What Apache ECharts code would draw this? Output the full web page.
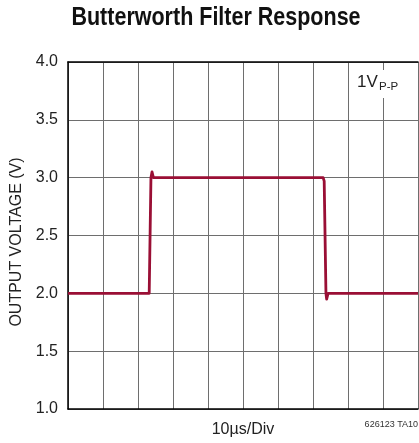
<!DOCTYPE html>
<html>
<head>
<meta charset="utf-8">
<title>Butterworth Filter Response</title>
<script src="https://cdn.jsdelivr.net/npm/echarts@6/dist/echarts.min.js"></script>
<style>
  html, body { margin: 0; padding: 0; background: #fff; }
  #chart { width: 419px; height: 443px; }
</style>
</head>
<body>
<div id="chart"></div>
<script>
// Scope trace: 1Vp-p step through the filter, 10 µs per division
const timeUs  = [0,   23.2, 23.7, 24.0, 24.4, 72.9, 73.2, 73.7, 73.9, 74.3, 100];
const voltage = [2.0, 2.0,  3.0,  3.05, 3.0,  3.0,  2.97, 2.0,  1.95, 2.0,  2.0];
const yTicks  = [1.0, 1.5, 2.0, 2.5, 3.0, 3.5, 4.0];
const xDivisions = 10;

const traceColor = '#9a0f35';
const gridColor = '#6e6e6e';
const sans = '"Liberation Sans", Arial, sans-serif';

const chart = echarts.init(document.getElementById('chart'), null, { renderer: 'canvas' });

chart.setOption({
  animation: false,
  backgroundColor: '#fff',
  grid: { left: 68, right: 1, top: 62, bottom: 31, containLabel: false },
  xAxis: [
    {
      type: 'value',
      min: 0,
      max: xDivisions * 10,
      interval: 10,
      name: '10µs/Div',
      nameLocation: 'middle',
      nameGap: 13,
      nameTextStyle: { fontFamily: sans, fontSize: 16, color: '#222' },
      axisLine: { show: true, onZero: false, lineStyle: { color: '#000', width: 1.5 } },
      axisTick: { show: false },
      axisLabel: { show: false },
      splitLine: { show: true, lineStyle: { color: gridColor, width: 1 } }
    },
    {
      type: 'value',
      position: 'top',
      min: 0,
      max: xDivisions * 10,
      interval: 10,
      axisLine: { show: true, onZero: false, lineStyle: { color: '#000', width: 1.5 } },
      axisTick: { show: false },
      axisLabel: { show: false },
      splitLine: { show: false }
    }
  ],
  yAxis: {
    type: 'value',
    min: yTicks[0],
    max: yTicks[yTicks.length - 1],
    interval: 0.5,
    name: 'OUTPUT VOLTAGE (V)',
    nameLocation: 'middle',
    nameRotate: 90,
    nameGap: 40,
    nameTextStyle: { fontFamily: sans, fontSize: 16, color: '#222', padding: [0, 13, 0, 0] },
    axisLine: { show: true, lineStyle: { color: '#000', width: 1.5 } },
    axisTick: { show: false },
    axisLabel: {
      margin: 10,
      fontFamily: sans,
      fontSize: 16,
      color: '#222',
      formatter: v => v.toFixed(1)
    },
    splitLine: { show: true, lineStyle: { color: gridColor, width: 1 } }
  },
  series: [{
    type: 'line',
    xAxisIndex: 0,
    data: timeUs.map((t, i) => [t, voltage[i]]),
    showSymbol: false,
    symbol: 'none',
    lineStyle: { color: traceColor, width: 2.8, join: 'round' },
    z: 5
  }],
  graphic: [
    {
      // condensed bold heading
      type: 'text',
      x: 216,
      y: 18,
      scaleX: 0.86,
      style: {
        text: 'Butterworth Filter Response',
        fontFamily: sans,
        fontWeight: 'bold',
        fontSize: 25,
        fill: '#111',
        align: 'center',
        verticalAlign: 'middle'
      },
      z: 11
    },
    {
      type: 'rect',
      shape: { x: 354, y: 70, width: 46, height: 28 },
      style: { fill: '#fff' },
      z: 10
    },
    {
      type: 'text',
      x: 357,
      y: 82,
      style: {
        text: '1V',
        fontFamily: sans,
        fontSize: 17,
        fill: '#222',
        align: 'left',
        verticalAlign: 'middle'
      },
      z: 11
    },
    {
      type: 'text',
      x: 379,
      y: 87,
      style: {
        text: 'P-P',
        fontFamily: sans,
        fontSize: 11.5,
        fill: '#222',
        align: 'left',
        verticalAlign: 'middle'
      },
      z: 11
    },
    {
      type: 'text',
      x: 418,
      y: 425,
      style: {
        text: '626123 TA10',
        fontFamily: sans,
        fontSize: 9,
        fill: '#333',
        align: 'right',
        verticalAlign: 'middle'
      },
      z: 11
    }
  ]
});
</script>
</body>
</html>
